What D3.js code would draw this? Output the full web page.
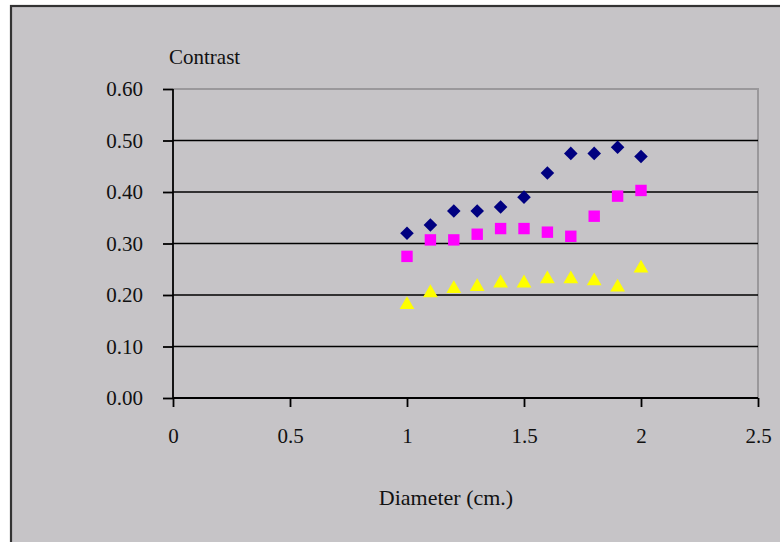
<!DOCTYPE html>
<html><head><meta charset="utf-8">
<script src="https://cdn.jsdelivr.net/npm/d3@7"></script>
<style>html,body{margin:0;padding:0;background:#fff;}svg{display:block;}</style>
</head><body>
<script>
const diameters = [1.0,1.1,1.2,1.3,1.4,1.5,1.6,1.7,1.8,1.9,2.0];
const seriesDiamond = [0.320,0.336,0.363,0.363,0.371,0.390,0.437,0.475,0.475,0.487,0.469];
const seriesSquare  = [0.275,0.307,0.307,0.318,0.329,0.329,0.322,0.314,0.353,0.392,0.403];
const seriesTriangle= [0.183,0.206,0.214,0.218,0.225,0.225,0.233,0.233,0.229,0.217,0.254];
const yTicks = [0,0.1,0.2,0.3,0.4,0.5,0.6];
const xTicks = [0,0.5,1,1.5,2,2.5];
const yTitle = "Contrast";
const xTitle = "Diameter (cm.)";

const W=780,H=542;
const svg=d3.select("body").append("svg").attr("width",W).attr("height",H);
svg.append("rect").attr("x",11).attr("y",6).attr("width",W).attr("height",H).attr("fill","#c6c4c7").attr("stroke","#333").attr("stroke-width",2.2);

const x=d3.scaleLinear().domain([0,2.5]).range([173,758]);
const y=d3.scaleLinear().domain([0,0.6]).range([398,89]);
const font="'Liberation Serif','DejaVu Serif',serif";
const fs=21;

// plot area gray border top/right
svg.append("path").attr("d",`M${x(0)},${y(0.6)}H${x(2.5)}V${y(0)}`).attr("fill","none").attr("stroke","#9a989b").attr("stroke-width",2);

// gridlines
svg.append("g").selectAll("line").data(yTicks.filter(d=>d>0&&d<0.6)).join("line")
  .attr("x1",x(0)).attr("x2",x(2.5)).attr("y1",d=>y(d)).attr("y2",d=>y(d))
  .attr("stroke","#000").attr("stroke-width",1.6);

// y axis
const yAx=svg.append("g").attr("transform",`translate(${x(0)},0)`)
  .call(d3.axisLeft(y).tickValues(yTicks).tickFormat(d3.format(".2f")).tickSize(10).tickPadding(20));
yAx.select(".domain").attr("stroke","#000").attr("stroke-width",1.8).attr("d",`M0,${y(0.6)}V${y(0)}`);
yAx.selectAll(".tick line").attr("stroke","#000").attr("stroke-width",1.8);
yAx.selectAll("text").attr("font-family",font).attr("font-size",fs).attr("fill","#111").attr("dy","0.33em");

// x axis
const xAx=svg.append("g").attr("transform",`translate(0,${y(0)})`)
  .call(d3.axisBottom(x).tickValues(xTicks).tickFormat(d=>String(d)).tickSize(9).tickPadding(36));
xAx.select(".domain").attr("stroke","#000").attr("stroke-width",1.8).attr("d",`M${x(0)},0H${x(2.5)}`);
xAx.selectAll(".tick line").attr("stroke","#000").attr("stroke-width",1.8);
xAx.selectAll("text").attr("font-family",font).attr("font-size",fs).attr("fill","#111").attr("dy","0");

svg.append("text").attr("x",169).attr("y",64).attr("font-family",font).attr("font-size",fs).attr("fill","#111").text(yTitle);
svg.append("text").attr("x",446).attr("y",505).attr("text-anchor","middle").attr("font-family",font).attr("font-size",22).attr("fill","#111").text(xTitle);

function plot(vals,type,size,color,rot,dy){
  svg.append("g").selectAll("path").data(diameters.map((d,i)=>[d,vals[i]])).join("path")
    .attr("transform",d=>`translate(${x(d[0])},${y(d[1])+(dy||0)}) rotate(${rot||0})`)
    .attr("d",d3.symbol().type(type).size(size)()).attr("fill",color);
}
plot(seriesDiamond,d3.symbolSquare,92,"#000080",45);
plot(seriesSquare,d3.symbolSquare,130,"#ff00ff");
plot(seriesTriangle,d3.symbolTriangle,95,"#ffff00",0,1);
</script>
</body></html>
